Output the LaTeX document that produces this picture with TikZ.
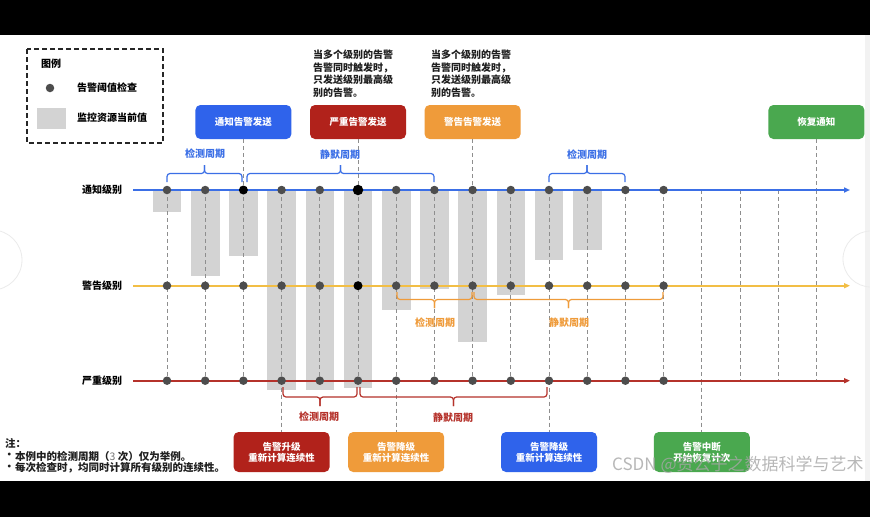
\documentclass[tikz,border=0pt]{standalone}
\usepackage{fontspec}
\setmainfont{Noto Sans CJK SC}
\usetikzlibrary{arrows.meta}
\definecolor{nblue}{HTML}{3B6FE6}
\definecolor{boxblue}{HTML}{2F63EB}
\definecolor{wyellow}{HTML}{F2BE45}
\definecolor{worange}{HTML}{EF9B3A}
\definecolor{sred}{HTML}{B5322B}
\definecolor{boxred}{HTML}{B1221B}
\definecolor{boxgreen}{HTML}{4AA84F}
\definecolor{bargray}{HTML}{D3D3D3}
\definecolor{dotgray}{HTML}{4D4D4D}
\definecolor{dgray}{HTML}{8E8E8E}
\newcommand\mybrace[6]{%
  \pgfmathsetmacro\xm{(#2+#3)/2}%
  \draw[#1, line width=1.2pt, rounded corners=3pt] (#2,#4) -- (#2,#5) -- (\xm,#5) -- (\xm,#6);%
  \draw[#1, line width=1.2pt, rounded corners=3pt] (#3,#4) -- (#3,#5) -- (\xm,#5) -- (\xm,#6);%
}
\tikzset{
  box/.style={rounded corners=5pt, minimum width=96pt, minimum height=34pt, text=white,
    font=\bfseries\fontsize{9.5}{11}\selectfont, align=center, inner sep=0pt},
  bbox/.style={box, minimum height=40pt},
  dashline/.style={draw=dgray, line width=0.8pt, dash pattern=on 4pt off 3pt},
  dot/.style={circle, fill=dotgray, inner sep=0pt, minimum size=8.5pt},
  bdot/.style={circle, fill=black, inner sep=0pt, minimum size=9pt},
  lvl/.style={font=\bfseries\fontsize{10}{12}\selectfont, text=black, inner sep=0pt},
  blab/.style={font=\bfseries\fontsize{10}{12}\selectfont, inner sep=0pt},
  txt/.style={font=\bfseries\fontsize{10}{12.5}\selectfont, text=black!88, inner sep=0pt, align=left},
  lvline/.style={line width=1.7pt, -{Triangle[length=6pt,width=5pt]}},
}
\begin{document}
\begin{tikzpicture}[x=1pt,y=-1pt]
\useasboundingbox (0,0) rectangle (870,517);
\fill[white] (0,0) rectangle (870,517);
\fill[black!5] (865,35) rectangle (870,481);
\draw[black!8, line width=0.8pt] (-8,260) circle (30);
\draw[black!8, line width=0.8pt] (871,259) circle (28);
\fill[black] (0,0) rectangle (870,35);
\fill[black] (0,481) rectangle (870,517);

% tick coordinates
\foreach \i in {0,...,17}{
  \coordinate (t\i) at ({167+38.2*\i},190);
  \coordinate (w\i) at ({167+38.2*\i},285.7);
  \coordinate (s\i) at ({167+38.2*\i},380.7);
}

% bars
\foreach \i/\b in {0/212,1/276,2/256,3/390,4/390,5/388,6/310,7/289,8/342,9/295,10/260,11/250}{
  \fill[bargray] ({167+38.2*\i-14.3},190) rectangle ({167+38.2*\i+14.3},\b);
}

% legend
\draw[black!85, line width=1.4pt, dash pattern=on 5pt off 3pt] (27,49) rectangle (163,143);
\node[lvl, anchor=west] (lgt) at (41,64) {图例};
\node[dot] (lgd) at (50,88) {};
\node[lvl, anchor=west] (lgd1) at (77,88) {告警阈值检查};
\fill[bargray] (37,108) rectangle (66,129);
\node[lvl, anchor=west] (lgd2) at (77,118) {监控资源当前值};

% top boxes
\node[box, fill=boxblue] (bn) at ({167+38.2*2},122) {通知告警发送};
\node[box, fill=boxred] (br) at ({167+38.2*5},122) {严重告警发送};
\node[box, fill=worange] (bw) at ({167+38.2*8},122) {警告告警发送};
\node[box, fill=boxgreen] (bg) at ({167+38.2*17},122) {恢复通知};

% annotations
\node[txt, anchor=north west] (ann1) at (313,50) {当多个级别的告警\\告警同时触发时，\\只发送级别最高级\\别的告警。};
\node[txt, anchor=north west] (ann2) at (431,50) {当多个级别的告警\\告警同时触发时，\\只发送级别最高级\\别的告警。};

% bottom boxes
\node[bbox, fill=boxred] (cb1) at ({167+38.2*3},452) {告警升级\\重新计算连续性};
\node[bbox, fill=worange] (cb2) at ({167+38.2*6},452) {告警降级\\重新计算连续性};
\node[bbox, fill=boxblue] (cb3) at ({167+38.2*10},452) {告警降级\\重新计算连续性};
\node[bbox, fill=boxgreen] (cb4) at ({167+38.2*14},452) {告警中断\\开始恢复计次};

% dashed verticals
\foreach \i in {0,...,17}{ \draw[dashline] (t\i) -- (s\i); }
\draw[dashline] (bn.south) -- (t2);
\draw[dashline] (br.south) -- (t5);
\draw[dashline] (bw.south) -- (t8);
\draw[dashline] (bg.south) -- (t17);
\draw[dashline] (s3) -- (cb1.north);
\draw[dashline] (s6) -- (cb2.north);
\draw[dashline] (s10) -- (cb3.north);
\draw[dashline] (s14) -- (cb4.north);

% level lines
\coordinate (ln0) at (133,190); \coordinate (ln1) at (850,190);
\coordinate (lw0) at (133,285.7); \coordinate (lw1) at (850,285.7);
\coordinate (ls0) at (133,380.7); \coordinate (ls1) at (850,380.7);
\draw[nblue, lvline] (ln0) -- (ln1);
\draw[wyellow, lvline] (lw0) -- (lw1);
\draw[sred, lvline] (ls0) -- (ls1);
\node[lvl] (l1) at (102,190) {通知级别};
\node[lvl] (l2) at (102,285.7) {警告级别};
\node[lvl] (l3) at (102,380.7) {严重级别};

% dots
\foreach \i in {0,1,3,4,6,7,8,9,10,11,12,13}{ \node[dot] (dn\i) at (t\i) {}; }
\node[bdot] (dn2) at (t2) {};
\node[bdot, minimum size=10.5pt] (dn5) at (t5) {};
\foreach \i in {0,1,2,3,4,6,7,8,9,10,11,12,13}{ \node[dot] (dw\i) at (w\i) {}; }
\node[bdot] (dw5) at (w5) {};
\foreach \i in {0,...,13}{ \node[dot] (ds\i) at (s\i) {}; }

% braces
\mybrace{nblue}{167}{242}{182}{173.5}{165}
\node[blab, text=nblue] (bl1) at (205,154) {检测周期};
\mybrace{nblue}{247}{434}{182}{173.5}{165}
\node[blab, text=nblue] (bl2) at (340,155) {静默周期};
\mybrace{nblue}{549}{625}{182}{173.5}{165}
\node[blab, text=nblue] (bl3) at (587,155) {检测周期};
\mybrace{worange}{397}{472}{292}{299.5}{308}
\node[blab, text=worange] (bl4) at (435,323) {检测周期};
\mybrace{worange}{474}{663}{292}{299.5}{308}
\node[blab, text=worange] (bl5) at (569,323) {静默周期};
\mybrace{sred}{283}{357}{387}{397}{406}
\node[blab, text=sred] (bl6) at (319,417) {检测周期};
\mybrace{sred}{360}{547}{387}{397}{406}
\node[blab, text=sred] (bl7) at (453,418) {静默周期};

% notes
\node[txt, anchor=west, font=\bfseries\fontsize{10.5}{12}\selectfont] (n0) at (5,443) {注：};
\node[txt, anchor=west, font=\bfseries\fontsize{10.5}{12}\selectfont] (n1b) at (4,456) {•};
\node[txt, anchor=west, font=\bfseries\fontsize{10.5}{12}\selectfont] (n1) at (15,456) {本例中的检测周期（{\mdseries\color{black!55}3} 次）仅为举例。};
\node[txt, anchor=west, font=\bfseries\fontsize{10.5}{12}\selectfont] (n2b) at (4,467.5) {•};
\node[txt, anchor=west, font=\bfseries\fontsize{10.5}{12}\selectfont] (n2) at (15,467.5) {每次检查时，均同时计算所有级别的连续性。};

% watermark
\node[font=\fontsize{17}{20}\selectfont, text=black!35, opacity=0.8, anchor=west, inner sep=0pt] (wm) at (612,465) {CSDN @资公子之数据科学与艺术};
\end{tikzpicture}
\end{document}
